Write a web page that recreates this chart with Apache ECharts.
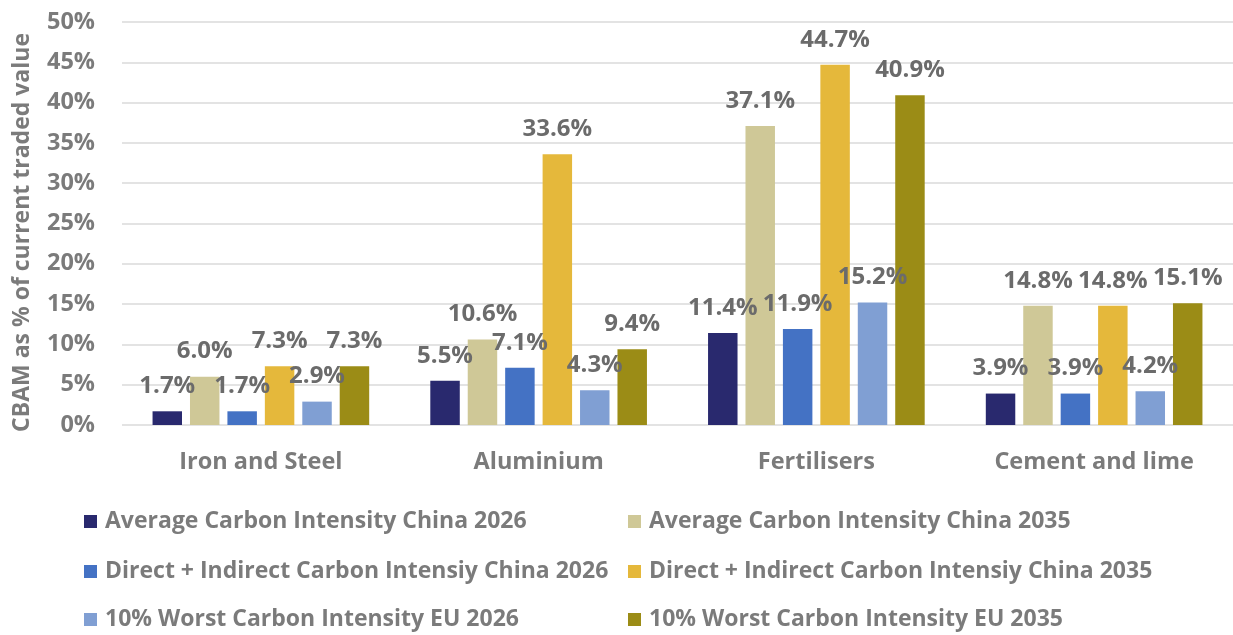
<!DOCTYPE html>
<html>
<head>
<meta charset="utf-8">
<script src="https://cdn.jsdelivr.net/npm/echarts@6/dist/echarts.min.js"></script>
<style>
  html, body { margin: 0; padding: 0; background: #fff; }
  #chart { width: 1233px; height: 635px; }
</style>
</head>
<body>
<div id="chart"></div>
<script>
// Sectors covered by CBAM
const categories = ['Iron and Steel', 'Aluminium', 'Fertilisers', 'Cement and lime'];

// Scenario names (legend order)
const seriesNames = [
  'Average Carbon Intensity China 2026',
  'Average Carbon Intensity China 2035',
  'Direct + Indirect Carbon Intensiy China 2026',
  'Direct + Indirect Carbon Intensiy China 2035',
  '10% Worst Carbon Intensity EU 2026',
  '10% Worst Carbon Intensity EU 2035'
];

// CBAM cost as % of current traded value, per sector
const avgChina2026 = [1.7, 5.5, 11.4, 3.9];
const avgChina2035 = [6.0, 10.6, 37.1, 14.8];
const directIndirectChina2026 = [1.7, 7.1, 11.9, 3.9];
const directIndirectChina2035 = [7.3, 33.6, 44.7, 14.8];
const worstEU2026 = [2.9, 4.3, 15.2, 4.2];
const worstEU2035 = [7.3, 9.4, 40.9, 15.1];

const seriesValues = [avgChina2026, avgChina2035, directIndirectChina2026,
                      directIndirectChina2035, worstEU2026, worstEU2035];
const colors = ['#29296e', '#cfc897', '#4472c4', '#e5b83b', '#809fd3', '#9b8c16'];

const yTicks = { min: 0, max: 50, interval: 5 };

const FONT = '"Open Sans", Lato, sans-serif';
const AXIS_GREY = '#7b7b7b';
const LABEL_GREY = '#6b6b6b';

const chart = echarts.init(document.getElementById('chart'), null, { renderer: 'canvas' });

const series = seriesNames.map((name, i) => ({
  name,
  type: 'bar',
  data: seriesValues[i],
  itemStyle: { color: colors[i] },
  barGap: '27%',
  barCategoryGap: '22%',
  label: {
    show: true,
    position: 'top',
    distance: 13,
    formatter: p => p.value.toFixed(1) + '%',
    color: LABEL_GREY,
    fontFamily: FONT,
    fontWeight: 'bold',
    fontSize: 24
  }
}));

// Legend laid out as two columns of three rows
const legendCols = [84, 628];
const legendRows = [510, 560, 608];
const legends = seriesNames.map((name, i) => ({
  left: legendCols[i % 2],
  top: legendRows[Math.floor(i / 2)],
  data: [name],
  itemWidth: 13,
  itemHeight: 13,
  icon: 'rect',
  padding: 0,
  selectedMode: false,
  textStyle: { color: AXIS_GREY, fontFamily: FONT, fontWeight: 'bold', fontSize: 23, padding: [0, 0, 0, 3] }
}));

chart.setOption({
  animation: false,
  color: colors,
  grid: { left: 122, right: 0, top: 22, bottom: 210 },
  legend: legends,
  xAxis: {
    type: 'category',
    data: categories,
    axisLine: { show: false },
    axisTick: { show: false },
    axisLabel: {
      color: AXIS_GREY,
      fontFamily: FONT,
      fontWeight: 'bold',
      fontSize: 23.5,
      margin: 25
    }
  },
  yAxis: {
    type: 'value',
    min: yTicks.min,
    max: yTicks.max,
    interval: yTicks.interval,
    name: 'CBAM as % of current traded value',
    nameLocation: 'middle',
    nameGap: 88,
    nameTextStyle: {
      color: AXIS_GREY, fontFamily: FONT, fontWeight: 'bold', fontSize: 23,
      padding: [0, 18, 0, 0]
    },
    axisLabel: {
      formatter: v => v + '%',
      color: AXIS_GREY,
      fontFamily: FONT,
      fontWeight: 'bold',
      fontSize: 23.5,
      margin: 27
    },
    splitLine: { lineStyle: { color: '#dadada', width: 1.5 } },
    axisLine: { show: false },
    axisTick: { show: false }
  },
  series
});
</script>
</body>
</html>
